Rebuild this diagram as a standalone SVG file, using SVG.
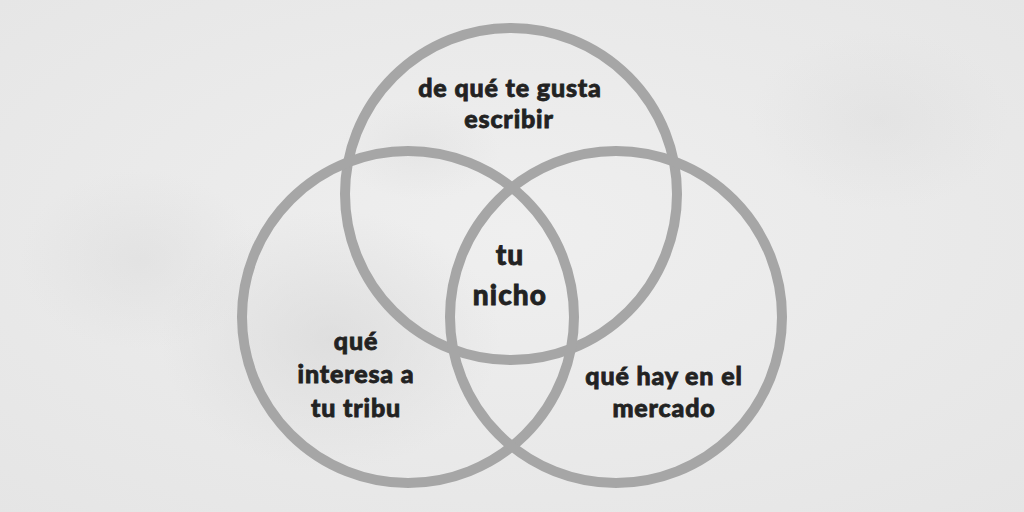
<svg xmlns="http://www.w3.org/2000/svg" width="1024" height="512" viewBox="0 0 1024 512">
  <defs>
    <radialGradient id="bg" cx="0.5" cy="0.45" r="0.75">
      <stop offset="0" stop-color="#efefef"/>
      <stop offset="1" stop-color="#e5e5e5"/>
    </radialGradient>
    <radialGradient id="blot" cx="0.5" cy="0.5" r="0.5">
      <stop offset="0" stop-color="#d6d6d6" stop-opacity="0.6"/>
      <stop offset="1" stop-color="#d6d6d6" stop-opacity="0"/>
    </radialGradient>
  </defs>
  <style>
    .ring { fill: none; stroke: #a6a6a6; stroke-width: 10; }
    .lbl { font-family: Lato, "Liberation Sans", sans-serif; font-weight: 900; font-size: 25px; letter-spacing: 0.85px; fill: #222222; stroke: #222222; stroke-width: 0.8px; text-anchor: middle; }
    .big { font-size: 28px; letter-spacing: 1.1px; }
  </style>
  <rect width="1024" height="512" fill="url(#bg)"/>
  <ellipse cx="330" cy="340" rx="170" ry="130" fill="url(#blot)"/>
  <ellipse cx="140" cy="260" rx="120" ry="90" fill="url(#blot)" opacity="0.6"/>
  <ellipse cx="880" cy="120" rx="130" ry="90" fill="url(#blot)" opacity="0.5"/>
  <ellipse cx="420" cy="150" rx="80" ry="50" fill="url(#blot)" opacity="0.5"/>

  <g id="circle-top">
    <circle class="ring" cx="511" cy="194" r="166"/>
    <text class="lbl" x="510" y="97">de qué te gusta</text>
    <text class="lbl" x="509" y="128">escribir</text>
  </g>
  <g id="circle-left">
    <circle class="ring" cx="408" cy="317" r="166"/>
    <text class="lbl" x="356" y="350">qué</text>
    <text class="lbl" x="356" y="383">interesa a</text>
    <text class="lbl" x="356" y="417">tu tribu</text>
  </g>
  <g id="circle-right">
    <circle class="ring" cx="616" cy="317" r="166"/>
    <text class="lbl" x="664" y="385">qué hay en el</text>
    <text class="lbl" x="664" y="417">mercado</text>
  </g>
  <g id="center">
    <text class="lbl big" x="510" y="265">tu</text>
    <text class="lbl big" x="510" y="305">nicho</text>
  </g>
  <g id="connectors"/>
</svg>
